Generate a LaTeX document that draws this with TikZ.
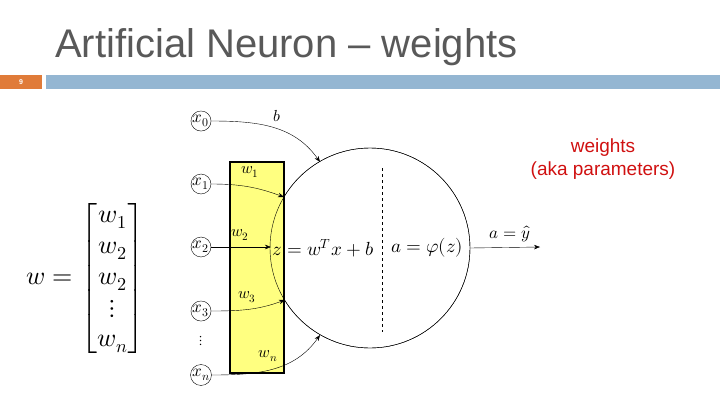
\documentclass[tikz,border=0pt]{standalone}
\usepackage{amsmath}
\usepackage{fontspec}
\setmainfont{Liberation Sans}
\usepackage{unicode-math}
\setmathfont{Latin Modern Math}
\usetikzlibrary{arrows.meta}
\definecolor{ttl}{HTML}{595959}
\definecolor{obar}{HTML}{E07B39}
\definecolor{bbar}{HTML}{94B6D2}
\definecolor{ylw}{HTML}{FFFF80}
\definecolor{red1}{HTML}{D01010}
\begin{document}
\begin{tikzpicture}[x=1pt,y=-1pt,
  inp/.style={circle,draw,inner sep=0pt,minimum size=19pt,font=\fontsize{17}{17}\selectfont},
  wl/.style={font=\fontsize{16}{16}\selectfont},
  con/.style={-{Stealth[length=6pt]},thin}]
\useasboundingbox (0,0) rectangle (720,405);
\node[text=ttl,font=\fontsize{40}{44}\selectfont,anchor=base west,inner sep=0pt] (title) at (55,57) {Artificial Neuron – weights};
\fill[obar] (0,75) rectangle (42,89);
\fill[bbar] (46,75) rectangle (720,89);
\node[text=white,font=\fontsize{7}{7}\selectfont\bfseries] (pg) at (21,82) {9};
\node[draw,circle,minimum size=200pt,inner sep=0pt] (n) at (370,248) {};
\draw[dashed] (382,168) -- (382,332);
\filldraw[fill=ylw,draw=black,line width=1.6pt] (230,162) rectangle (284,373);
\draw[thin] (n.center) circle (100pt);
\node[inp] (x0) at (201,121) {$x_0$};
\node[inp] (x1) at (201,184) {$x_1$};
\node[inp] (x2) at (201,247) {$x_2$};
\node[inp] (x3) at (201,311) {$x_3$};
\node[inp] (xn) at (201,375) {$x_n$};
\node[font=\fontsize{14}{14}\selectfont] (dd) at (201,341) {$\vdots$};
\coordinate (e0) at (320,162);
\coordinate (e1) at (284,197);
\coordinate (e2) at (271,247);
\coordinate (e3) at (285,300);
\coordinate (en) at (320,335);
\draw[con] (x0) to[out=0,in=125] (e0);
\draw[con] (x1) to[out=0,in=160] (e1);
\draw[con] (x2) -- (e2);
\draw[con] (x3) to[out=0,in=200] (e3);
\draw[con] (xn) to[out=0,in=235] (en);
\node[wl] (lb) at (277,116) {$b$};
\node[wl] (l1) at (250,172) {$w_1$};
\node[wl] (l2) at (240,235) {$w_2$};
\node[wl] (l3) at (247,297) {$w_3$};
\node[wl] (ln) at (268,356) {$w_n$};
\node[font=\fontsize{19}{19}\selectfont] (z) at (323,248) {$z=w^Tx+b$};
\node[font=\fontsize{19}{19}\selectfont] (a) at (427,248) {$a=\varphi(z)$};
\coordinate (out) at (540,247);
\draw[con] (n.east) -- (out);
\node[font=\fontsize{17}{17}\selectfont] (ay) at (510,234) {$a=\hat{y}$};
\node[font=\fontsize{26}{31}\selectfont] (w) at (86,278) {$w=\begin{bmatrix}w_1\\ w_2\\ w_2\\ \vdots\\ w_n\end{bmatrix}$};
\node[text=red1,font=\fontsize{19}{23}\selectfont,align=center] (wt) at (603,159) {weights\\(aka parameters)};
\end{tikzpicture}
\end{document}
